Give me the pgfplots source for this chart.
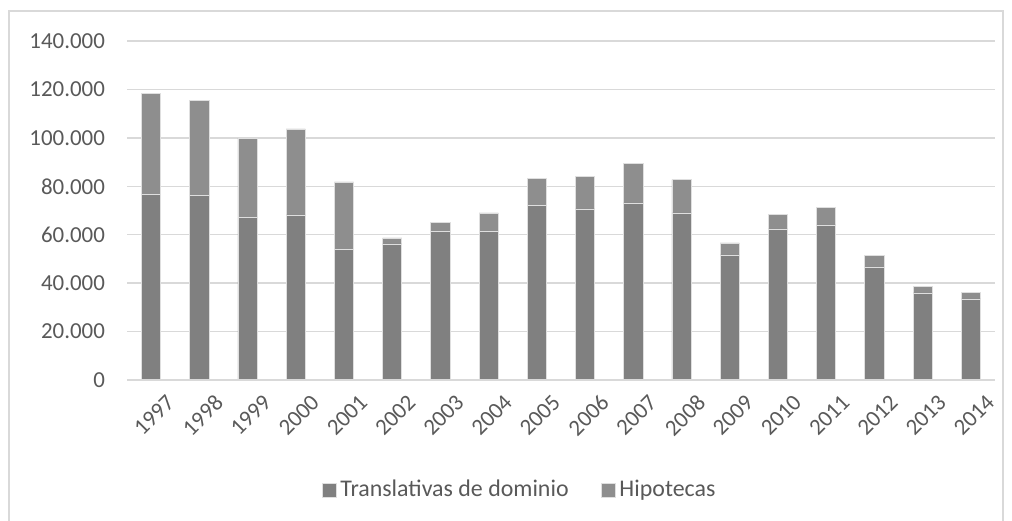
\documentclass[border=0pt]{standalone}
\usepackage{pgfplots}
\pgfplotsset{compat=1.18}
\usepackage{fontspec}
\setmainfont{Carlito}
\definecolor{barA}{RGB}{128,128,128}
\definecolor{barB}{RGB}{142,142,142}
\definecolor{gridc}{RGB}{217,217,217}
\definecolor{txt}{RGB}{89,89,89}
\definecolor{framec}{RGB}{217,217,217}
\begin{document}
\begin{tikzpicture}[x=1bp,y=1bp]
\useasboundingbox (0,0) rectangle (506,260);
\begin{scope}
\clip (0,0) rectangle (506,260);
\draw[framec, line width=0.75bp] (4.5,-10) rectangle (501.5,254.5);
\end{scope}
\begin{axis}[
  at={(63.5bp,70bp)}, anchor=south west,
  scale only axis, width=434bp, height=169.5bp,
  ybar stacked, bar width=9.65bp,
  xmin=-0.5, xmax=17.5, ymin=0, ymax=140000,
  xtick={0,...,17},
  xticklabels={1997,1998,1999,2000,2001,2002,2003,2004,2005,2006,2007,2008,2009,2010,2011,2012,2013,2014},
  x tick label style={rotate=45, anchor=north east, font=\fontsize{11.5}{12}\selectfont, text=txt, inner sep=0.5bp, yshift=-9bp, xshift=1bp},
  ytick={0,20000,...,140000},
  scaled y ticks=false,
  y tick label style={font=\fontsize{11.5}{12}\selectfont, text=txt, xshift=-7.5bp},
  /pgf/number format/fixed,
  /pgf/number format/1000 sep={.},
  /pgf/number format/assume math mode=true,
  ymajorgrids, grid style={gridc, line width=0.75bp},
  axis line style={draw=none},
  major tick length=0pt,
  legend style={at={(0.4533,-0.3245)}, anchor=center, draw=none, legend columns=2,
    font=\fontsize{12}{13}\selectfont, text=txt,
    /tikz/every even column/.append style={column sep=14bp}},
  legend image code/.code={\fill[#1] (0bp,-3.5bp) rectangle (7bp,3.5bp);},
]
\draw[gridc, line width=0.75bp] (axis cs:-0.5,0) -- (axis cs:17.5,0);
\addplot[fill=barA, draw=white!75!gray, line width=0.4bp] coordinates {
(0,76450) (1,76150) (2,67200) (3,68180) (4,54000) (5,56200) (6,61300) (7,61300) (8,72000)
(9,70650) (10,73140) (11,69000) (12,51650) (13,62400) (14,64050) (15,46700) (16,35950) (17,33470)};
\addlegendentry{Translativas de dominio}
\addplot[fill=barB, draw=white!75!gray, line width=0.4bp] coordinates {
(0,41730) (1,39250) (2,32640) (3,35520) (4,27800) (5,2480) (6,3700) (7,7700) (8,11200)
(9,13450) (10,16110) (11,13770) (12,4950) (13,5900) (14,7150) (15,4800) (16,2750) (17,2730)};
\addlegendentry{Hipotecas}
\end{axis}
\end{tikzpicture}
\end{document}
